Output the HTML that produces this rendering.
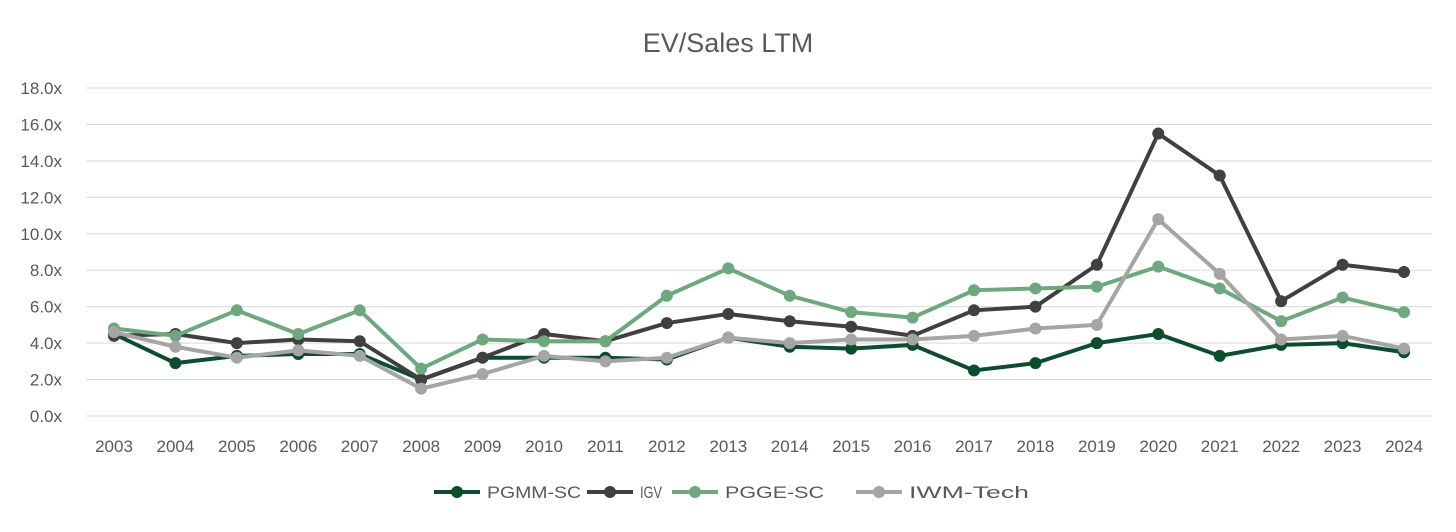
<!DOCTYPE html>
<html><head><meta charset="utf-8"><style>
body{margin:0;background:#fff;font-family:"Liberation Sans",sans-serif;}
svg text{font-family:"Liberation Sans",sans-serif;fill:#595959;}
</style></head><body>
<svg id="chart" width="1456" height="527" xmlns="http://www.w3.org/2000/svg">
<text x="728" y="52" text-anchor="middle" font-size="27">EV/Sales LTM</text>
<g id="grid"></g><g id="series"></g><g id="legend"></g>
</svg>
<script>
const years=["2003","2004","2005","2006","2007","2008","2009","2010","2011","2012","2013","2014","2015","2016","2017","2018","2019","2020","2021","2022","2023","2024"];
const yTicks=[0,2,4,6,8,10,12,14,16,18];
const pgmm=[4.5,2.9,3.3,3.4,3.4,2.0,3.2,3.2,3.2,3.1,4.3,3.8,3.7,3.9,2.5,2.9,4.0,4.5,3.3,3.9,4.0,3.5];
const igv=[4.4,4.5,4.0,4.2,4.1,2.0,3.2,4.5,4.1,5.1,5.6,5.2,4.9,4.4,5.8,6.0,8.3,15.5,13.2,6.3,8.3,7.9];
const pgge=[4.8,4.4,5.8,4.5,5.8,2.6,4.2,4.1,4.1,6.6,8.1,6.6,5.7,5.4,6.9,7.0,7.1,8.2,7.0,5.2,6.5,5.7];
const iwm=[4.6,3.8,3.2,3.6,3.3,1.5,2.3,3.3,3.0,3.2,4.3,4.0,4.2,4.2,4.4,4.8,5.0,10.8,7.8,4.2,4.4,3.7];
const NS="http://www.w3.org/2000/svg";
const xS=i=>114+i*(1404-114)/(years.length-1);
const yS=v=>416-v*(416-88)/18;
function mk(t,a,p){const e=document.createElementNS(NS,t);for(const k in a)e.setAttribute(k,a[k]);p.appendChild(e);return e;}
const grid=document.getElementById('grid');
yTicks.forEach(v=>{
 const l=mk('line',{x1:86,x2:1432,y1:yS(v),y2:yS(v),stroke:'#d9d9d9','stroke-width':1},grid);
 
 
 const t=mk('text',{x:62,y:yS(v)+6,'text-anchor':'end','font-size':17},grid);t.textContent=v.toFixed(1)+'x';
 
 
});
years.forEach((y,i)=>{
 const t=mk('text',{x:xS(i),y:452,'text-anchor':'middle','font-size':17},grid);t.textContent=y;
 
 
});
const ser=[["PGMM-SC",pgmm,"#0b4d2c"],["IGV",igv,"#404040"],["PGGE-SC",pgge,"#6fa77f"],["IWM-Tech",iwm,"#a5a5a5"]];
const sg=document.getElementById('series');
ser.forEach(([n,d,c])=>{
 const g=mk('g',{},sg);
 
 
 mk('polyline',{points:d.map((v,i)=>xS(i)+','+yS(v)).join(' '),fill:'none',stroke:c,'stroke-width':4,'stroke-linejoin':'round'},g);
 d.forEach((v,i)=>{const p=mk('circle',{cx:xS(i),cy:yS(v),r:6,fill:c},g);
  
  });
});
const lg=document.getElementById('legend');
const lx=[434,587,672,856];
const lw=[94,22,99,120];
ser.forEach(([n,d,c],i)=>{
 const g=mk('g',{},lg);
 
 
 mk('line',{x1:lx[i],x2:lx[i]+46,y1:492,y2:492,stroke:c,'stroke-width':4},g);
 mk('circle',{cx:lx[i]+23,cy:492,r:6,fill:c},g);
 const t=mk('text',{x:lx[i]+53,y:498,'font-size':17,textLength:lw[i],lengthAdjust:'spacingAndGlyphs'},g);t.textContent=n;
});
</script>
</body></html>
